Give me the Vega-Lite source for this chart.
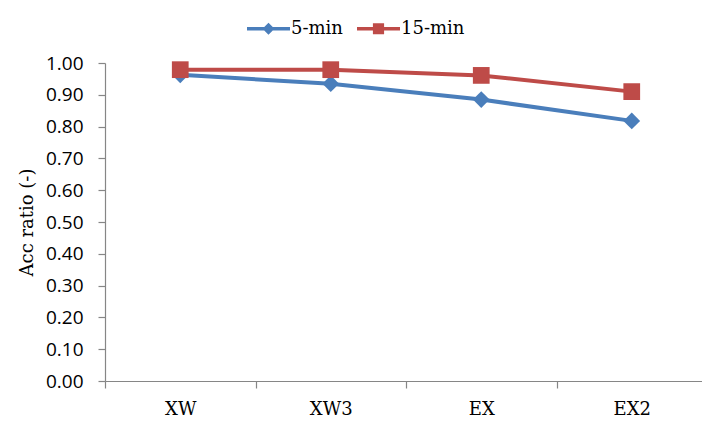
{
  "$schema": "https://vega.github.io/schema/vega-lite/v6.json",
  "width": 597,
  "height": 318,
  "autosize": {"type": "none"},
  "padding": {"left": 105, "top": 63, "right": 0, "bottom": 40},
  "background": "white",
  "config": {"view": {"stroke": null}},
  "data": {
    "values": [
      {"cat": "XW", "series": "5-min", "value": 0.963},
      {"cat": "XW3", "series": "5-min", "value": 0.935},
      {"cat": "EX", "series": "5-min", "value": 0.885},
      {"cat": "EX2", "series": "5-min", "value": 0.818},
      {"cat": "XW", "series": "15-min", "value": 0.979},
      {"cat": "XW3", "series": "15-min", "value": 0.979},
      {"cat": "EX", "series": "15-min", "value": 0.961},
      {"cat": "EX2", "series": "15-min", "value": 0.910}
    ]
  },
  "encoding": {
    "x": {
      "field": "cat",
      "type": "nominal",
      "sort": ["XW", "XW3", "EX", "EX2"],
      "scale": {"type": "band", "range": [0, 602], "paddingInner": 0, "paddingOuter": 0},
      "axis": {
        "title": null,
        "tickBand": "extent",
        "labelAngle": 0,
        "labelFont": "DejaVu Serif",
        "labelFontSize": 18,
        "labelColor": "#000000",
        "labelPadding": 12,
        "tickSize": 7,
        "tickColor": "#868686",
        "domainColor": "#868686",
        "domainWidth": 1.2,
        "tickWidth": 1.2,
        "grid": false
      }
    },
    "y": {
      "field": "value",
      "type": "quantitative",
      "scale": {"domain": [0, 1], "nice": false, "zero": true},
      "axis": {
        "title": "Acc ratio (-)",
        "titleFont": "DejaVu Serif",
        "titleFontSize": 18,
        "titleFontWeight": "normal",
        "titleColor": "#000000",
        "titlePadding": 9,
        "values": [0, 0.1, 0.2, 0.3, 0.4, 0.5, 0.6, 0.7, 0.8, 0.9, 1.0],
        "format": ".2f",
        "labelFont": "Open Sans",
        "labelFontSize": 19,
        "labelColor": "#000000",
        "labelPadding": 15,
        "tickSize": 7,
        "tickColor": "#868686",
        "domainColor": "#868686",
        "domainWidth": 1.2,
        "tickWidth": 1.2,
        "grid": false
      }
    },
    "color": {
      "field": "series",
      "type": "nominal",
      "sort": ["5-min", "15-min"],
      "scale": {"domain": ["5-min", "15-min"], "range": ["#4A7EBB", "#BE4B48"]},
      "legend": {
        "title": null,
        "orient": "none",
        "legendX": 142,
        "legendY": -56,
        "direction": "horizontal",
        "labelFont": "DejaVu Serif",
        "labelFontSize": 18,
        "labelColor": "#000000",
        "labelOffset": 1,
        "columnPadding": 14,
        "symbolSize": 1849,
        "symbolStrokeWidth": 0,
        "symbolOpacity": 1,
        "encode": {
          "symbols": {
            "update": {
              "shape": {"signal": "datum.value === '5-min' ? 'M-1,-0.08H1V0.08H-1Z M0,-0.28L0.28,0L0,0.28L-0.28,0Z' : 'M-1,-0.08H1V0.08H-1Z M-0.26,-0.26H0.26V0.26H-0.26Z'"},
              "strokeWidth": {"value": 0},
              "opacity": {"value": 1}
            }
          }
        }
      }
    }
  },
  "layer": [
    {
      "mark": {"type": "line", "strokeWidth": 4}
    },
    {
      "transform": [{"filter": "datum.series === '5-min'"}],
      "mark": {"type": "point", "filled": true, "opacity": 1, "size": 280, "shape": "diamond"}
    },
    {
      "transform": [{"filter": "datum.series === '15-min'"}],
      "mark": {"type": "point", "filled": true, "opacity": 1, "size": 280, "shape": "square"}
    }
  ]
}
